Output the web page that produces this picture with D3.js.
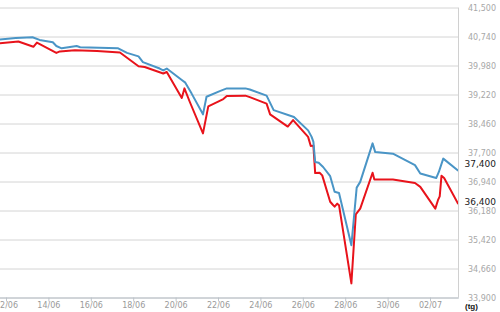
<!DOCTYPE html>
<html>
<head>
<meta charset="utf-8">
<script src="https://cdn.jsdelivr.net/npm/d3@7"></script>
<style>
  html, body { margin: 0; padding: 0; background: #fff; }
  svg { display: block; }
</style>
</head>
<body>
<script>
// ---- Data (gold price, thousand VND) ----
const sellTimes = ["2013-06-11 17:00","2013-06-12 11:00","2013-06-13 06:00","2013-06-13 14:00","2013-06-14 05:00","2013-06-14 09:00","2013-06-14 15:00","2013-06-15 08:00","2013-06-15 12:00","2013-06-17 07:00","2013-06-17 17:00","2013-06-18 06:00","2013-06-18 11:00","2013-06-19 06:00","2013-06-19 10:00","2013-06-19 14:00","2013-06-20 07:00","2013-06-20 11:00","2013-06-20 18:00","2013-06-21 07:00","2013-06-21 11:00","2013-06-22 02:00","2013-06-22 10:00","2013-06-23 07:00","2013-06-23 12:00","2013-06-24 07:00","2013-06-24 15:00","2013-06-25 14:00","2013-06-26 06:00","2013-06-26 10:00","2013-06-26 12:00","2013-06-26 14:00","2013-06-26 18:00","2013-06-26 23:00","2013-06-27 07:00","2013-06-27 12:00","2013-06-27 17:00","2013-06-28 07:00","2013-06-28 13:00","2013-06-28 17:00","2013-06-29 07:00","2013-06-29 10:00","2013-06-30 06:00","2013-07-01 07:00","2013-07-01 13:00","2013-07-02 07:00","2013-07-02 10:00","2013-07-02 15:00","2013-07-03 08:00"];
const sellValues = [40660,40700,40720,40650,40590,40490,40430,40490,40460,40430,40310,40220,40070,39900,39850,39900,39600,39530,39250,38700,39160,39310,39380,39380,39350,39190,38810,38630,38280,38110,37980,37450,37430,37320,37080,36670,36640,35270,36780,36930,37940,37710,37670,37370,37150,37030,37190,37540,37220];

const buyTimes = ["2013-06-11 17:00","2013-06-12 14:00","2013-06-13 07:00","2013-06-13 11:00","2013-06-14 09:00","2013-06-14 13:00","2013-06-15 06:00","2013-06-16 07:00","2013-06-17 09:00","2013-06-18 06:00","2013-06-18 13:00","2013-06-19 10:00","2013-06-19 14:00","2013-06-20 07:00","2013-06-20 10:00","2013-06-20 16:00","2013-06-21 07:00","2013-06-21 13:00","2013-06-22 06:00","2013-06-22 10:00","2013-06-23 07:00","2013-06-23 12:00","2013-06-24 07:00","2013-06-24 11:00","2013-06-25 07:00","2013-06-25 13:00","2013-06-26 06:00","2013-06-26 09:00","2013-06-26 12:00","2013-06-26 14:00","2013-06-26 19:00","2013-06-26 22:00","2013-06-27 07:00","2013-06-27 10:00","2013-06-27 12:00","2013-06-27 15:00","2013-06-27 17:00","2013-06-28 07:00","2013-06-28 12:00","2013-06-28 17:00","2013-06-29 07:00","2013-06-29 09:00","2013-06-30 06:00","2013-07-01 07:00","2013-07-01 13:00","2013-07-02 06:00","2013-07-02 09:00","2013-07-02 11:00","2013-07-02 13:00","2013-07-02 16:00","2013-07-03 08:00"];
const buyValues = [40560,40610,40470,40580,40310,40350,40380,40360,40320,39960,39940,39770,39810,39130,39380,39030,38200,38910,39100,39180,39190,39150,38980,38700,38380,38550,38110,37870,37880,37160,37170,37100,36410,36330,36280,36360,36320,34270,36080,36230,37170,36990,36990,36900,36800,36230,36450,36550,37090,37030,36350];

const xTickLabels = ["2013-06-12","2013-06-14","2013-06-16","2013-06-18","2013-06-20","2013-06-22","2013-06-24","2013-06-26","2013-06-28","2013-06-30","2013-07-02"];
const yTickValues = [33900,34660,35420,36180,36940,37700,38460,39220,39980,40740,41500];
const currentLabels = [37400, 36400];
const unitLabel = "(tg)";

// ---- Layout ----
const W = 500, H = 312;
const plotLeft = 0, plotRight = 458, plotTop = 7.5, plotBottom = 297.5;

const parseT = d3.timeParse("%Y-%m-%d %H:%M");
const parseD = d3.timeParse("%Y-%m-%d");

const x = d3.scaleTime()
  .domain([parseD("2013-06-12"), parseD("2013-07-02")])
  .range([6, 430]);
const y = d3.scaleLinear()
  .domain([33900, 41500])
  .range([plotBottom, plotTop]);

const svg = d3.select("body").append("svg").attr("width", W).attr("height", H);

svg.append("defs").append("clipPath").attr("id", "clip")
  .append("rect").attr("x", plotLeft).attr("y", 0).attr("width", plotRight - plotLeft).attr("height", plotBottom + 1);

// gridlines
const grid = svg.append("g").attr("class", "grid")
  .call(d3.axisLeft(y).tickValues(yTickValues).tickSize(-(plotRight - plotLeft)).tickFormat(""));
grid.select(".domain").remove();
grid.selectAll("line").attr("stroke", "#d4d4d4").attr("stroke-width", 1);

// right border
svg.append("line").attr("x1", plotRight + 0.5).attr("x2", plotRight + 0.5)
  .attr("y1", plotTop).attr("y2", plotBottom).attr("stroke", "#d0d0d0");

// x axis
const xAxis = svg.append("g").attr("transform", `translate(0,${plotBottom})`)
  .call(d3.axisBottom(x).tickValues(xTickLabels.map(parseD)).tickFormat(d3.timeFormat("%d/%m")).tickSize(4).tickSizeOuter(0).tickPadding(1));
xAxis.select(".domain").remove();
xAxis.selectAll("line").attr("stroke", "#c0c6cc");
xAxis.selectAll("text").attr("fill", "#9a9a9a").style("font-family", "DejaVu Sans").style("font-size", "8px");
svg.append("line").attr("x1", plotLeft).attr("x2", plotRight + 1)
  .attr("y1", plotBottom + 0.5).attr("y2", plotBottom + 0.5).attr("stroke", "#b8c0c8");

// y axis labels (right)
const yAxis = svg.append("g").attr("transform", "translate(496,0)")
  .call(d3.axisRight(y).tickValues(yTickValues).tickFormat(d3.format(",")).tickSize(0).tickPadding(0));
yAxis.select(".domain").remove();
yAxis.selectAll("text").attr("text-anchor", "end").attr("x", 0)
  .attr("fill", "#a8a8a8").style("font-family", "DejaVu Sans").style("font-size", "8px");

// lines
const line = d3.line().x(d => x(d.t)).y(d => y(d.v));
const sell = sellTimes.map((t, i) => ({ t: parseT(t), v: sellValues[i] }));
const buy = buyTimes.map((t, i) => ({ t: parseT(t), v: buyValues[i] }));

const lines = svg.append("g").attr("clip-path", "url(#clip)");
lines.append("path").datum(buy).attr("d", line)
  .attr("fill", "none").attr("stroke", "#e8131b").attr("stroke-width", 2).attr("stroke-linejoin", "round");
lines.append("path").datum(sell).attr("d", line)
  .attr("fill", "none").attr("stroke", "#4a95c6").attr("stroke-width", 2).attr("stroke-linejoin", "round");

// current value labels
svg.append("g").selectAll("text").data(currentLabels).join("text")
  .attr("x", 496).attr("y", d => y(d)).attr("dy", "0.35em")
  .attr("text-anchor", "end").attr("fill", "#1a1a1a")
  .style("font-family", "DejaVu Sans").style("font-size", "9px")
  .text(d => d3.format(",")(d));

// unit label
svg.append("text").attr("x", 465).attr("y", 308.5)
  .attr("fill", "#111").style("font-family", "Liberation Sans").style("font-size", "8px").style("font-weight", "bold")
  .text(unitLabel);
</script>
</body>
</html>
